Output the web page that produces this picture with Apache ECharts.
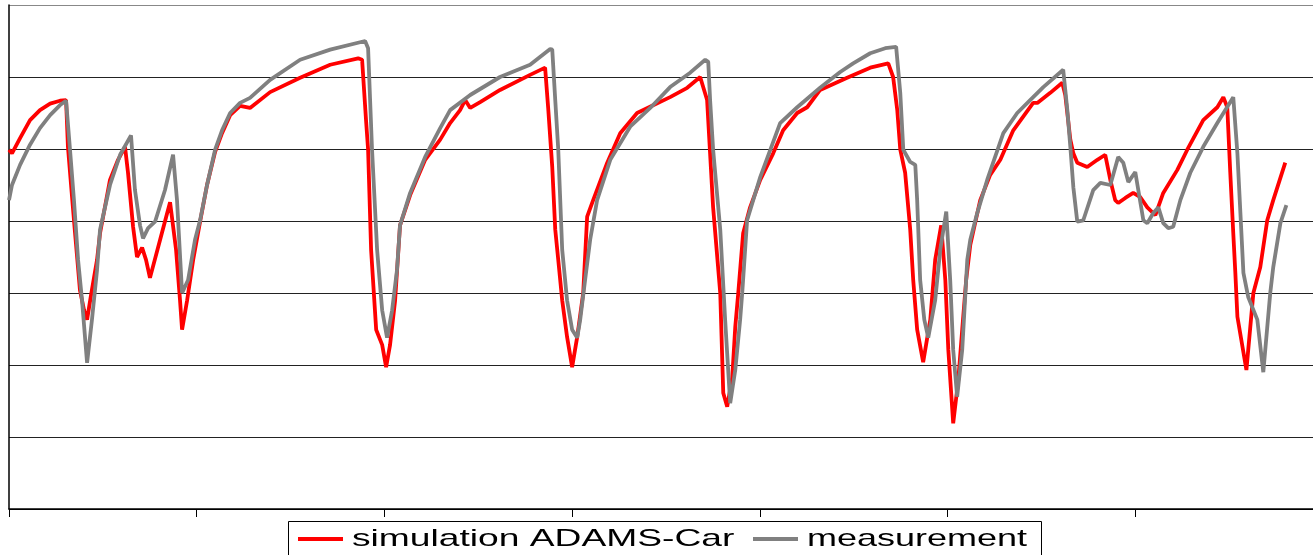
<!DOCTYPE html>
<html>
<head>
<meta charset="utf-8">
<script src="https://cdn.jsdelivr.net/npm/echarts@6/dist/echarts.min.js"></script>
<style>
  html, body { margin: 0; padding: 0; background: #fff; overflow: hidden; }
  /* the plot runs on past the right edge of the window, so the div is wider */
  #main { width: 1330px; height: 555px; }
</style>
</head>
<body>
<div id="main"></div>
<script>
// [time, value]
var simulation = [
  [0, 4.99], [0.16, 4.94], [0.59, 5.15], [1.12, 5.40], [1.65, 5.54], [2.19, 5.63], [2.72, 5.67], [3.04, 5.68],
  [3.14, 5.03], [3.36, 4.33], [3.52, 3.83], [3.78, 3.04], [4.00, 2.76], [4.16, 2.63], [4.37, 2.97], [4.69, 3.46],
  [4.85, 3.83], [5.38, 4.57], [5.81, 4.85], [6.18, 5.03], [6.34, 4.67], [6.61, 3.92], [6.82, 3.50], [7.09, 3.63],
  [7.30, 3.46], [7.51, 3.21], [8.05, 3.74], [8.58, 4.26], [8.90, 3.60], [9.11, 2.90], [9.22, 2.49], [9.49, 2.90],
  [9.81, 3.46], [10.18, 3.99], [10.55, 4.50], [10.98, 4.96], [11.35, 5.22], [11.78, 5.47], [12.31, 5.60], [12.84, 5.57],
  [13.91, 5.79], [15.51, 5.99], [17.11, 6.17], [18.60, 6.26], [18.81, 6.24], [19.02, 5.40], [19.13, 4.99], [19.29, 3.60],
  [19.56, 2.49], [19.88, 2.28], [20.09, 1.97], [20.30, 2.28], [20.57, 2.90], [20.83, 3.94], [21.37, 4.36], [22.17, 4.85],
  [22.97, 5.13], [23.50, 5.36], [24.03, 5.54], [24.30, 5.68], [24.57, 5.57], [25.10, 5.65], [26.16, 5.82], [27.76, 6.03],
  [28.56, 6.13], [28.72, 5.58], [28.94, 4.75], [29.10, 3.88], [29.26, 3.46], [29.47, 2.90], [29.73, 2.39], [30.00, 1.97],
  [30.27, 2.39], [30.59, 3.00], [30.80, 4.06], [31.12, 4.29], [31.87, 4.81], [32.56, 5.22], [33.46, 5.50], [34.26, 5.60],
  [35.22, 5.72], [36.13, 5.85], [36.82, 6.00], [37.19, 5.68], [37.51, 4.19], [37.89, 3.00], [38.05, 1.61], [38.26, 1.42],
  [38.53, 1.83], [38.69, 2.53], [38.85, 3.00], [39.11, 3.83], [39.48, 4.19], [40.02, 4.57], [40.71, 4.94], [41.24, 5.26],
  [41.99, 5.50], [42.52, 5.58], [43.21, 5.82], [44.65, 5.99], [45.88, 6.13], [46.84, 6.19], [47.10, 6.00], [47.32, 5.54],
  [47.48, 4.99], [47.74, 4.67], [48.01, 3.88], [48.17, 3.18], [48.38, 2.49], [48.70, 2.04], [49.08, 2.63], [49.34, 3.46],
  [49.66, 3.94], [49.88, 3.18], [50.04, 2.21], [50.30, 1.19], [50.57, 1.79], [50.78, 2.49], [50.99, 3.18], [51.21, 3.67],
  [51.74, 4.29], [52.27, 4.64], [52.81, 4.85], [53.50, 5.26], [54.56, 5.64], [54.78, 5.64], [55.47, 5.78], [56.11, 5.92],
  [56.27, 5.75], [56.54, 5.13], [56.70, 4.94], [56.91, 4.81], [57.44, 4.75], [57.98, 4.85], [58.40, 4.92], [58.67, 4.57],
  [58.93, 4.29], [59.09, 4.25], [59.47, 4.32], [59.89, 4.39], [60.27, 4.33], [60.64, 4.19], [61.07, 4.08], [61.49, 4.39],
  [62.24, 4.71], [62.77, 4.99], [63.62, 5.40], [64.37, 5.58], [64.69, 5.72], [64.90, 5.58], [65.06, 4.67], [65.22, 3.83],
  [65.33, 3.28], [65.44, 2.67], [65.92, 1.93], [66.29, 3.00], [66.66, 3.36], [67.03, 4.01], [67.35, 4.29], [67.99, 4.81]
];

var measurement = [
  [0, 4.29], [0.16, 4.50], [0.59, 4.78], [1.12, 5.06], [1.65, 5.29], [2.19, 5.47], [2.72, 5.61], [3.04, 5.67],
  [3.25, 4.99], [3.46, 4.29], [3.68, 3.46], [3.89, 2.90], [4.16, 2.03], [4.42, 2.63], [4.69, 3.32], [4.85, 3.88],
  [5.38, 4.50], [5.92, 4.92], [6.50, 5.19], [6.71, 4.43], [6.98, 3.94], [7.14, 3.76], [7.41, 3.90], [7.78, 3.99],
  [8.31, 4.43], [8.74, 4.92], [8.95, 4.29], [9.22, 3.00], [9.54, 3.18], [9.91, 3.74], [10.18, 4.01], [10.55, 4.50],
  [10.98, 4.99], [11.35, 5.26], [11.78, 5.50], [12.31, 5.64], [12.84, 5.71], [13.91, 5.96], [15.51, 6.24], [17.11, 6.38],
  [18.97, 6.50], [19.13, 6.40], [19.34, 4.99], [19.61, 3.60], [19.88, 2.76], [20.14, 2.38], [20.41, 2.76], [20.67, 3.32],
  [20.83, 3.94], [21.37, 4.39], [22.17, 4.89], [22.97, 5.29], [23.50, 5.54], [24.57, 5.75], [26.16, 6.00], [27.76, 6.17],
  [28.83, 6.39], [28.94, 6.38], [29.10, 5.68], [29.26, 4.99], [29.47, 3.60], [29.73, 2.90], [30.00, 2.49], [30.27, 2.38],
  [30.43, 2.63], [30.69, 3.18], [30.96, 3.74], [31.33, 4.29], [32.03, 4.85], [33.09, 5.31], [34.16, 5.57], [35.22, 5.86],
  [36.29, 6.06], [37.09, 6.24], [37.25, 6.21], [37.35, 5.68], [37.51, 4.99], [37.89, 3.88], [38.15, 2.63], [38.42, 1.47],
  [38.69, 1.93], [38.95, 2.63], [39.06, 3.00], [39.32, 4.01], [40.02, 4.61], [41.08, 5.36], [41.99, 5.58], [43.21, 5.85],
  [44.28, 6.07], [44.97, 6.19], [45.88, 6.33], [46.68, 6.40], [47.26, 6.42], [47.48, 5.78], [47.64, 4.99], [48.01, 4.82],
  [48.28, 4.78], [48.38, 4.29], [48.54, 3.18], [48.76, 2.63], [48.97, 2.38], [49.34, 2.90], [49.61, 3.60], [49.93, 4.13],
  [50.14, 3.18], [50.30, 2.21], [50.51, 1.56], [50.78, 2.21], [51.05, 3.46], [51.21, 3.74], [51.58, 4.11], [52.11, 4.57],
  [52.97, 5.22], [53.71, 5.50], [54.40, 5.68], [55.10, 5.86], [56.16, 6.10], [56.38, 5.54], [56.54, 5.03], [56.70, 4.47],
  [56.91, 3.99], [57.23, 4.01], [57.76, 4.43], [58.14, 4.53], [58.67, 4.50], [59.09, 4.89], [59.36, 4.81], [59.63, 4.54],
  [60.00, 4.68], [60.16, 4.43], [60.43, 4.01], [60.64, 3.97], [60.96, 4.11], [61.23, 4.19], [61.49, 3.97], [61.76, 3.90],
  [62.02, 3.92], [62.40, 4.29], [62.93, 4.67], [63.62, 5.03], [64.37, 5.36], [65.22, 5.72], [65.44, 4.94], [65.60, 4.11],
  [65.76, 3.28], [66.02, 2.94], [66.50, 2.63], [66.82, 1.90], [67.19, 3.00], [67.35, 3.36], [67.73, 3.97], [68.05, 4.22]
];

var seriesNames = ['simulation ADAMS-Car', 'measurement'];
var seriesColors = ['#ff0000', '#808080'];

var chart = echarts.init(document.getElementById('main'));

var option = {
  animation: false,
  backgroundColor: '#ffffff',
  grid: { left: 9, top: 5, right: 7, bottom: 46 },
  xAxis: {
    type: 'value',
    min: 0,
    max: 70,
    interval: 10,
    axisLine: { show: true, lineStyle: { color: '#000', width: 1.5 } },
    axisTick: { show: true, length: 8, lineStyle: { color: '#000' } },
    axisLabel: { show: false },
    splitLine: { show: false }
  },
  yAxis: {
    type: 'value',
    min: 0,
    max: 7,
    interval: 1,
    axisLine: { show: true, lineStyle: { color: '#000', width: 1.5 } },
    axisTick: { show: false },
    axisLabel: { show: false },
    splitLine: {
      show: true,
      lineStyle: {
        color: ['#000', '#222', '#222', '#222', '#222', '#222', '#222', '#888'],
        width: 1.2
      }
    }
  },
  series: [
    {
      name: seriesNames[0],
      type: 'line',
      data: simulation,
      showSymbol: false,
      lineStyle: { color: seriesColors[0], width: 3.8 },
      itemStyle: { color: seriesColors[0] }
    },
    {
      name: seriesNames[1],
      type: 'line',
      data: measurement,
      showSymbol: false,
      lineStyle: { color: seriesColors[1], width: 3.8 },
      itemStyle: { color: seriesColors[1] }
    }
  ],
  // the legend text in the picture is stretched sideways, so it is drawn by hand
  graphic: [
    {
      type: 'rect',
      shape: { x: 288.5, y: 521.5, width: 753, height: 40 },
      style: { fill: '#fff', stroke: '#000', lineWidth: 1 }
    },
    {
      type: 'line',
      shape: { x1: 298, y1: 539, x2: 343, y2: 539 },
      style: { stroke: seriesColors[0], lineWidth: 3.8 }
    },
    {
      type: 'text',
      x: 352,
      y: 539,
      scaleX: 1.55,
      style: {
        text: seriesNames[0],
        fontFamily: 'Liberation Sans, Arial, sans-serif',
        fontSize: 24,
        fill: '#000',
        verticalAlign: 'middle'
      }
    },
    {
      type: 'line',
      shape: { x1: 753, y1: 539, x2: 798, y2: 539 },
      style: { stroke: seriesColors[1], lineWidth: 3.8 }
    },
    {
      type: 'text',
      x: 807,
      y: 539,
      scaleX: 1.5,
      style: {
        text: seriesNames[1],
        fontFamily: 'Liberation Sans, Arial, sans-serif',
        fontSize: 24,
        fill: '#000',
        verticalAlign: 'middle'
      }
    }
  ]
};

chart.setOption(option);
</script>
</body>
</html>
